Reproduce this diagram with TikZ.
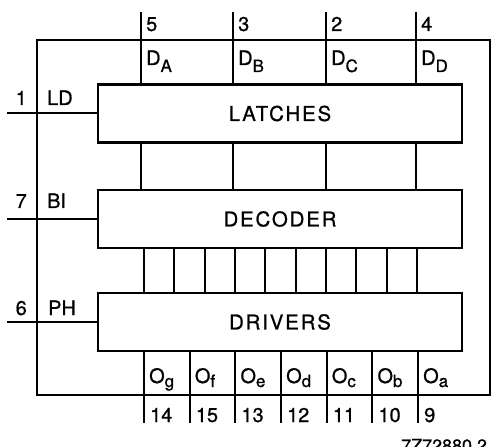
\documentclass[tikz,border=0pt]{standalone}
\usepackage{fontspec}
\setmainfont{TeX Gyre Heros}[FakeBold=0.8]
\newfontfamily\boxfont{TeX Gyre Heros}[LetterSpace=9,FakeBold=0.8]
\newcommand\lowsub[2]{\raisebox{-#1}{\fontsize{17}{17}\selectfont #2}}
\begin{document}
\begin{tikzpicture}[x=1bp,y=-1bp,
  blk/.style={draw, line width=2.8bp, inner sep=0pt, minimum width=364bp, minimum height=58bp,
              font=\boxfont\fontsize{20.5}{20.5}\selectfont},
  frame/.style={line width=2.6bp},
  wire/.style={line width=2bp},
  lbl/.style={inner sep=0pt, font=\fontsize{20}{20}\selectfont}]
\useasboundingbox (0,0) rectangle (493,447);
% outer frame
\draw[frame] (37,40) rectangle (490,395);
% blocks
\node[blk] (latches) at (280,113.5) {LATCHES};
\node[blk] (decoder) at (280,219) {DECODER};
\node[blk] (drivers) at (280,322) {DRIVERS};
% data inputs
\foreach \x/\n/\s [count=\i] in {141/5/A, 233/3/B, 326/2/C, 416/4/D} {
  \coordinate (d\i) at (\x,12);
  \draw[wire] (d\i) -- (d\i |- latches.north);
  \draw[wire] (d\i |- latches.south) -- (d\i |- decoder.north);
  \node[lbl, anchor=base west] at (\x+5,31) {\n};
  \node[lbl, anchor=base west] at (\x+5,65) {D\lowsub{7bp}{\s}};
}
% decoder -> drivers
\foreach \i in {0,...,9} {
  \coordinate (k\i) at (144+\i*30.33,270);
  \draw[wire] (k\i |- decoder.south) -- (k\i |- drivers.north);
}
% outputs
\foreach \x/\o/\n [count=\i] in {144/g/14, 189.7/f/15, 235.3/e/13, 281/d/12, 326.7/c/11, 372.3/b/10, 418/a/9} {
  \coordinate (o\i) at (\x,423);
  \draw[wire] (o\i |- drivers.south) -- (o\i);
  \node[lbl, anchor=base west] at (\x+5,383) {O\lowsub{4bp}{\o}};
  \node[lbl, anchor=base west] at (\x+6,422) {\n};
}
% control inputs
\foreach \y/\n/\t/\b in {113.5/1/LD/latches, 219/7/BI/decoder, 322/6/PH/drivers} {
  \coordinate (c\n) at (7,\y);
  \draw[wire] (c\n) -- (\b.west);
}
\node[lbl, anchor=base east] at (27,105) {1};
\node[lbl, anchor=base west] at (47,105) {LD};
\node[lbl, anchor=base east] at (27,208) {7};
\node[lbl, anchor=base west] at (47,208) {BI};
\node[lbl, anchor=base east] at (27,315) {6};
\node[lbl, anchor=base west] at (48,315) {PH};
% code
\node[inner sep=0pt, anchor=base west, font=\fontsize{18}{18}\selectfont] (code) at (401,452) {7Z72880.2};
\end{tikzpicture}
\end{document}
